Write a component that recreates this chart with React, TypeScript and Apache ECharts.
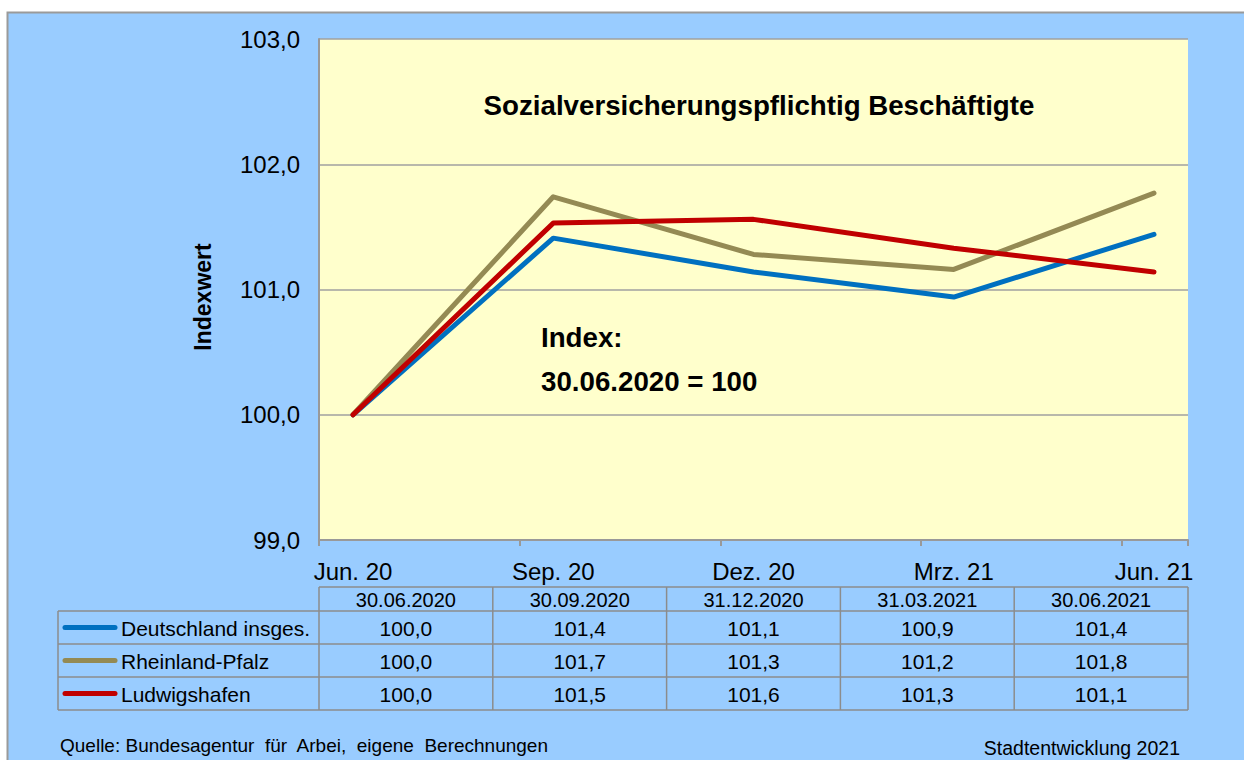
import React, { useEffect, useRef } from "react";
import * as echarts from "echarts";

const categories = ["Jun. 20", "Sep. 20", "Dez. 20", "Mrz. 21", "Jun. 21"];
const dates = ["30.06.2020", "30.09.2020", "31.12.2020", "31.03.2021", "30.06.2021"];
const seriesNames = ["Deutschland insges.", "Rheinland-Pfalz", "Ludwigshafen"];
const deutschland = [100.0, 101.41, 101.14, 100.94, 101.44];
const rheinlandPfalz = [100.0, 101.74, 101.28, 101.16, 101.77];
const ludwigshafen = [100.0, 101.53, 101.56, 101.33, 101.14];
const seriesColors = ["#0070C0", "#948A54", "#C00000"];
const yTicks = { min: 99, max: 103, interval: 1 };

const FONT = 'Arial, "Liberation Sans", sans-serif';
const fmt = (v: number) => v.toFixed(1).replace(".", ",");

export default function App() {
  const ref = useRef<HTMLDivElement>(null);
  useEffect(() => {
    document.body.style.margin = "0";
    const chart = echarts.init(ref.current!, null, { renderer: "svg" });
    const allSeries = [deutschland, rheinlandPfalz, ludwigshafen];

    const plotLeft = 319;
    const plotW = 869;
    const colW = plotW / categories.length;
    const headerTop = 587;
    const headerH = 24;
    const rowH = 33;
    const legendLeft = 58;
    const gray = "#8C8C8C";

    const graphics: any[] = [];
    graphics.push({
      type: "rect",
      z: -100,
      shape: { x: 7.5, y: 12.5, width: 1260, height: 780 },
      style: { fill: "#99CCFF", stroke: "#9A9A9A", lineWidth: 2 },
    });
    const tableBottom = headerTop + headerH + rowH * 3;
    graphics.push({ type: "line", shape: { x1: plotLeft, y1: headerTop, x2: plotLeft + plotW, y2: headerTop }, style: { stroke: gray, lineWidth: 1.5 } });
    for (let r = 0; r <= 3; r++) {
      const y = headerTop + headerH + r * rowH;
      graphics.push({ type: "line", shape: { x1: legendLeft, y1: y, x2: plotLeft + plotW, y2: y }, style: { stroke: gray, lineWidth: 1.5 } });
    }
    graphics.push({ type: "line", shape: { x1: legendLeft, y1: headerTop + headerH, x2: legendLeft, y2: tableBottom }, style: { stroke: gray, lineWidth: 1.5 } });
    for (let c = 0; c <= categories.length; c++) {
      const x = plotLeft + c * colW;
      graphics.push({ type: "line", shape: { x1: x, y1: headerTop, x2: x, y2: tableBottom }, style: { stroke: gray, lineWidth: 1.5 } });
    }
    dates.forEach((d, c) => {
      graphics.push({
        type: "text",
        x: plotLeft + (c + 0.5) * colW,
        y: headerTop + headerH / 2 + 1,
        style: { text: d, font: `20px ${FONT}`, fill: "#000", align: "center", verticalAlign: "middle" },
      });
    });
    allSeries.forEach((vals, r) => {
      const cy = headerTop + headerH + r * rowH + rowH / 2;
      graphics.push({
        type: "line",
        shape: { x1: 65, y1: cy, x2: 115, y2: cy },
        style: { stroke: seriesColors[r], lineWidth: 5, lineCap: "round" },
      });
      graphics.push({
        type: "text",
        x: 121,
        y: cy + 1,
        style: { text: seriesNames[r], font: `21px ${FONT}`, fill: "#000", align: "left", verticalAlign: "middle" },
      });
      vals.forEach((v, c) => {
        graphics.push({
          type: "text",
          x: plotLeft + (c + 0.5) * colW,
          y: cy + 1,
          style: { text: fmt(v), font: `21px ${FONT}`, fill: "#000", align: "center", verticalAlign: "middle" },
        });
      });
    });
    graphics.push({
      type: "text", x: 759, y: 105,
      style: { text: "Sozialversicherungspflichtig Beschäftigte", font: `bold 27.7px ${FONT}`, fill: "#000", align: "center", verticalAlign: "middle" },
    });
    graphics.push({
      type: "text", x: 541, y: 337,
      style: { text: "Index:", font: `bold 27.7px ${FONT}`, fill: "#000", align: "left", verticalAlign: "middle" },
    });
    graphics.push({
      type: "text", x: 541, y: 381,
      style: { text: "30.06.2020 = 100", font: `bold 27.7px ${FONT}`, fill: "#000", align: "left", verticalAlign: "middle" },
    });
    graphics.push({
      type: "text", x: 203, y: 297, rotation: Math.PI / 2,
      style: { text: "Indexwert", font: `bold 23px ${FONT}`, fill: "#000", align: "center", verticalAlign: "middle" },
    });
    graphics.push({
      type: "text", x: 60, y: 745,
      style: { text: "Quelle: Bundesagentur  für  Arbei,  eigene  Berechnungen", font: `19px ${FONT}`, fill: "#000", align: "left", verticalAlign: "middle" },
    });
    graphics.push({
      type: "text", x: 1180, y: 748,
      style: { text: "Stadtentwicklung 2021", font: `19.5px ${FONT}`, fill: "#000", align: "right", verticalAlign: "middle" },
    });

    chart.setOption({
      animation: false,
      backgroundColor: "#FFFFFF",
      textStyle: { fontFamily: FONT },
      grid: [
        { left: plotLeft, top: 39, width: plotW, height: 501, show: true, backgroundColor: "#FFFFCC", borderWidth: 0 },
        { left: 353, top: 39, width: 801, height: 501, show: false },
      ],
      xAxis: [
        {
          gridIndex: 0, type: "value", min: 0, max: plotW / 200.7, interval: 1,
          axisLine: { show: true, lineStyle: { color: "#999", width: 2 } },
          axisTick: { show: true, length: 6, lineStyle: { color: "#999", width: 2 } },
          axisLabel: { show: false }, splitLine: { show: false },
        },
        {
          gridIndex: 1, type: "category", data: categories, boundaryGap: false,
          axisLine: { show: false }, axisTick: { show: false }, splitLine: { show: false },
          axisLabel: { fontSize: 24, color: "#000", margin: 19, fontFamily: FONT, interval: 0 },
        },
      ],
      yAxis: [
        {
          gridIndex: 0, type: "value", min: yTicks.min, max: yTicks.max, interval: yTicks.interval,
          axisLine: { show: true, lineStyle: { color: "#999", width: 2 } },
          axisTick: { show: false },
          splitLine: { show: true, lineStyle: { color: "#A0A0A0", width: 1.5 } },
          axisLabel: { fontSize: 24, color: "#000", margin: 19, fontFamily: FONT, formatter: (v: number) => fmt(v) },
        },
        {
          gridIndex: 1, type: "value", min: yTicks.min, max: yTicks.max, show: false,
          splitLine: { show: false },
        },
      ],
      series: allSeries.map((vals, i) => ({
        name: seriesNames[i],
        type: "line",
        xAxisIndex: 1,
        yAxisIndex: 1,
        data: vals,
        showSymbol: false,
        symbol: "none",
        z: 3 + i,
        lineStyle: { color: seriesColors[i], width: 5, cap: "round", join: "round" },
        itemStyle: { color: seriesColors[i] },
      })),
      graphic: { elements: graphics },
    });
    return () => chart.dispose();
  }, []);
  return (
    <div style={{ position: "fixed", left: 0, top: 0, width: 1244, height: 760, background: "#fff" }}>
      <div ref={ref} style={{ width: 1244, height: 760 }} />
    </div>
  );
}
